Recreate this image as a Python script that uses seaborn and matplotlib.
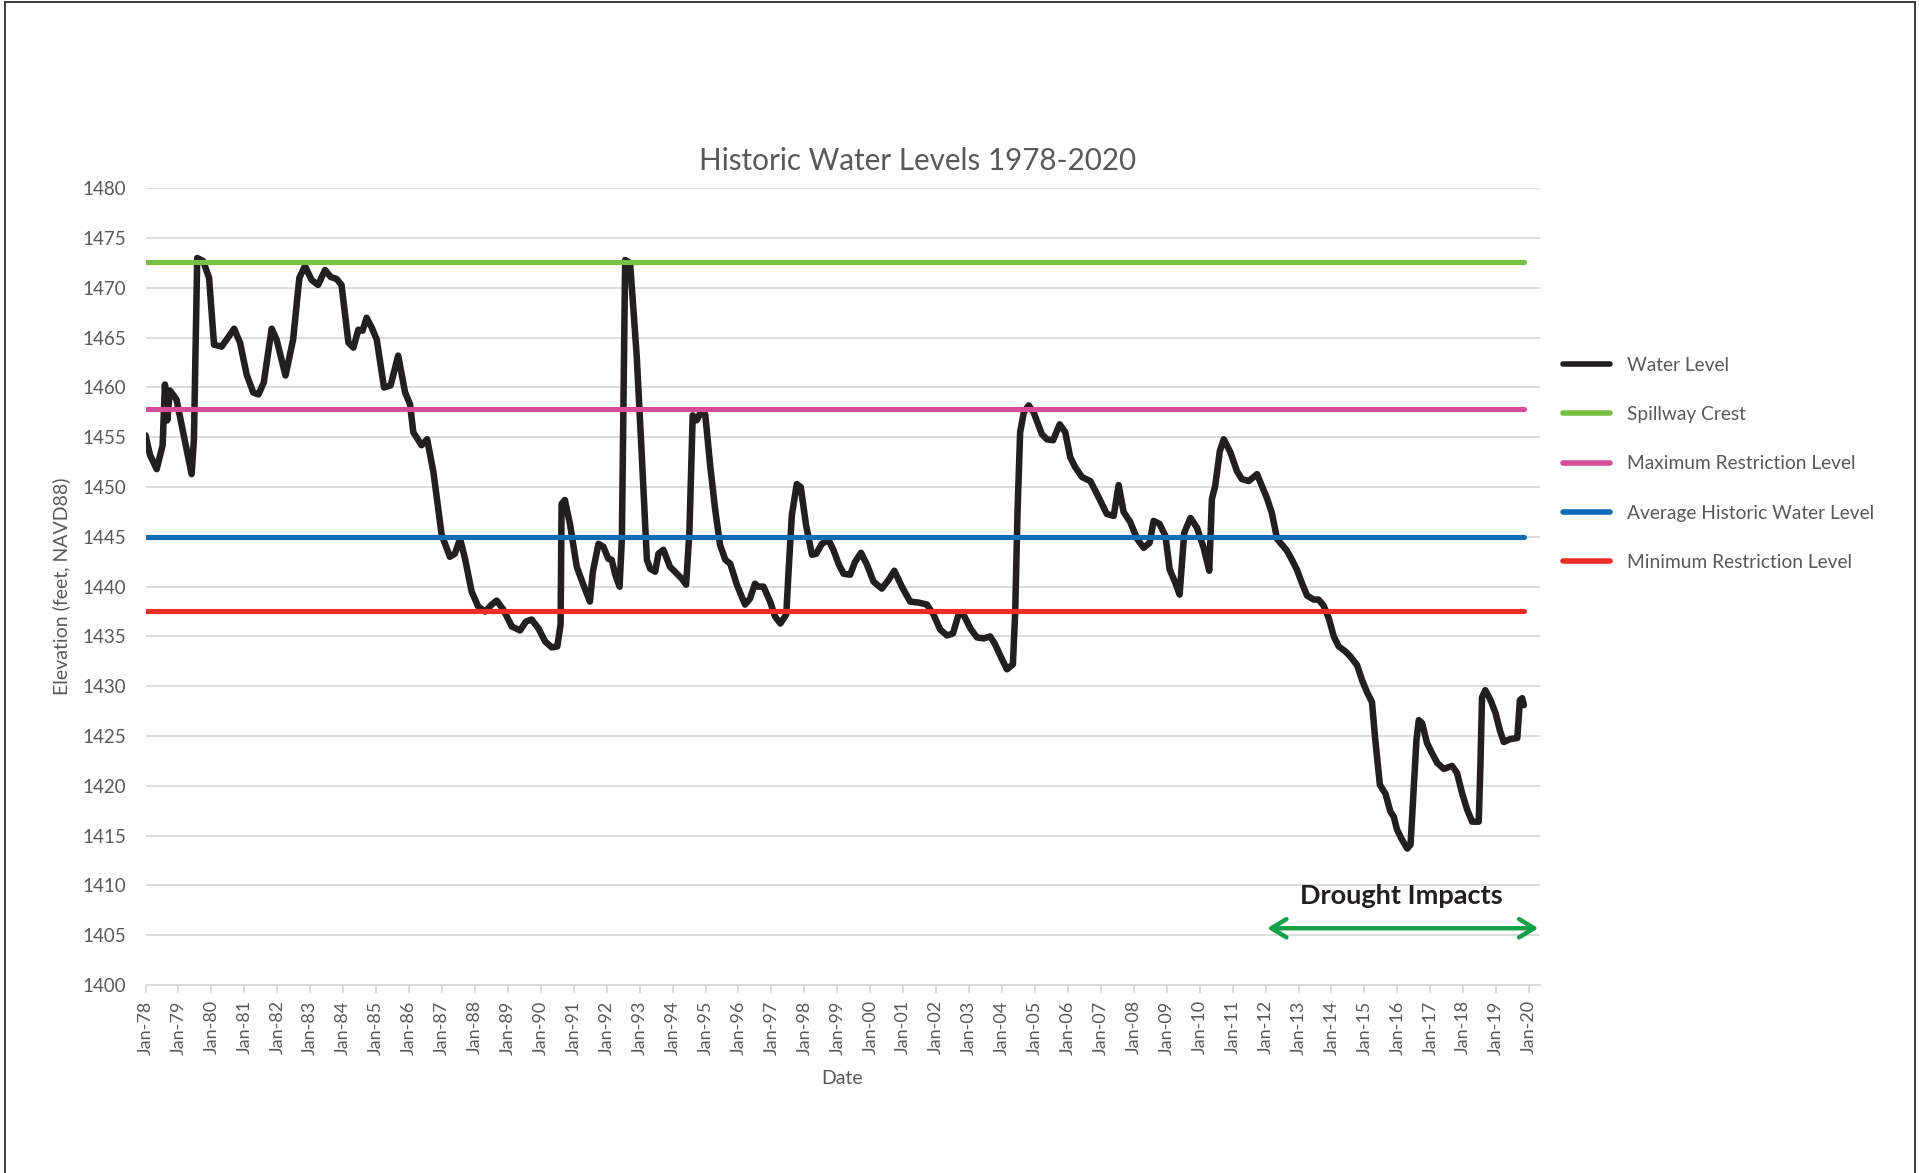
import matplotlib
matplotlib.use("Agg")
import matplotlib.pyplot as plt
from matplotlib.lines import Line2D
import pandas as pd
import seaborn as sns

# ---------------- data ----------------
dates = [
    1978.00, 1978.14, 1978.34, 1978.52, 1978.59, 1978.66, 1978.74, 1978.94, 1979.10, 1979.40,
    1979.47, 1979.57, 1979.75, 1979.93, 1980.08, 1980.31, 1980.46, 1980.69, 1980.87, 1981.07,
    1981.27, 1981.43, 1981.59, 1981.83, 1981.98, 1982.25, 1982.48, 1982.67, 1982.84, 1983.04,
    1983.24, 1983.45, 1983.62, 1983.80, 1983.95, 1984.16, 1984.31, 1984.46, 1984.59, 1984.71,
    1984.87, 1985.02, 1985.24, 1985.44, 1985.67, 1985.88, 1986.03, 1986.13, 1986.38, 1986.55,
    1986.74, 1986.99, 1987.24, 1987.39, 1987.55, 1987.70, 1987.90, 1988.10, 1988.31, 1988.51,
    1988.66, 1988.86, 1989.12, 1989.37, 1989.55, 1989.72, 1989.93, 1990.13, 1990.33, 1990.50,
    1990.60, 1990.63, 1990.73, 1990.89, 1991.09, 1991.29, 1991.49, 1991.58, 1991.75, 1991.90,
    1992.05, 1992.15, 1992.26, 1992.39, 1992.46, 1992.56, 1992.71, 1992.91, 1993.06, 1993.22,
    1993.32, 1993.47, 1993.57, 1993.72, 1993.92, 1994.13, 1994.28, 1994.41, 1994.51, 1994.61,
    1994.73, 1994.82, 1994.99, 1995.14, 1995.29, 1995.44, 1995.60, 1995.75, 1995.95, 1996.20,
    1996.35, 1996.50, 1996.60, 1996.76, 1996.96, 1997.11, 1997.27, 1997.45, 1997.52, 1997.62,
    1997.77, 1997.89, 1998.05, 1998.23, 1998.36, 1998.53, 1998.73, 1998.88, 1999.05, 1999.19,
    1999.39, 1999.54, 1999.72, 1999.90, 2000.10, 2000.35, 2000.56, 2000.73, 2000.96, 2001.21,
    2001.47, 2001.72, 2001.92, 2002.12, 2002.33, 2002.51, 2002.68, 2002.83, 2003.04, 2003.24,
    2003.44, 2003.64, 2003.79, 2004.00, 2004.15, 2004.33, 2004.40, 2004.47, 2004.55, 2004.66,
    2004.81, 2004.96, 2005.21, 2005.36, 2005.55, 2005.75, 2005.92, 2006.07, 2006.22, 2006.43,
    2006.68, 2006.93, 2007.18, 2007.39, 2007.54, 2007.69, 2007.89, 2008.10, 2008.30, 2008.48,
    2008.60, 2008.78, 2008.96, 2009.09, 2009.26, 2009.39, 2009.53, 2009.72, 2009.92, 2010.12,
    2010.29, 2010.37, 2010.47, 2010.61, 2010.73, 2010.93, 2011.13, 2011.28, 2011.49, 2011.74,
    2011.89, 2012.04, 2012.19, 2012.35, 2012.65, 2012.80, 2012.95, 2013.11, 2013.26, 2013.46,
    2013.61, 2013.76, 2013.92, 2014.07, 2014.22, 2014.42, 2014.57, 2014.78, 2014.93, 2015.08,
    2015.23, 2015.33, 2015.47, 2015.64, 2015.79, 2015.89, 2015.99, 2016.14, 2016.30, 2016.40,
    2016.50, 2016.58, 2016.65, 2016.75, 2016.90, 2017.05, 2017.21, 2017.41, 2017.66, 2017.81,
    2017.97, 2018.12, 2018.27, 2018.47, 2018.52, 2018.57, 2018.67, 2018.83, 2018.98, 2019.11,
    2019.23, 2019.43, 2019.64, 2019.72, 2019.79, 2019.84,
]
levels = [
    1455.2, 1453.2, 1451.8, 1454.2, 1460.3, 1456.7, 1459.7, 1458.8, 1456.2, 1451.3,
    1454.8, 1473.0, 1472.7, 1471.0, 1464.3, 1464.1, 1464.8, 1465.9, 1464.5, 1461.3,
    1459.5, 1459.3, 1460.5, 1465.9, 1464.8, 1461.2, 1464.8, 1471.0, 1472.2, 1470.8,
    1470.3, 1471.8, 1471.1, 1470.9, 1470.3, 1464.5, 1464.0, 1465.8, 1465.7, 1467.0,
    1466.0, 1464.8, 1460.0, 1460.2, 1463.2, 1459.5, 1458.3, 1455.5, 1454.2, 1454.8,
    1451.5, 1445.2, 1443.0, 1443.3, 1444.8, 1442.8, 1439.5, 1438.0, 1437.5, 1438.2,
    1438.6, 1437.7, 1436.0, 1435.6, 1436.5, 1436.7, 1435.8, 1434.5, 1433.9, 1434.0,
    1436.2, 1448.3, 1448.7, 1446.2, 1442.0, 1440.2, 1438.5, 1441.5, 1444.3, 1444.0,
    1442.8, 1442.7, 1441.2, 1440.0, 1444.8, 1472.8, 1472.5, 1463.2, 1453.5, 1442.7,
    1441.8, 1441.5, 1443.3, 1443.7, 1442.0, 1441.3, 1440.8, 1440.2, 1445.5, 1457.2,
    1456.7, 1457.3, 1457.3, 1452.2, 1447.8, 1444.2, 1442.7, 1442.3, 1440.2, 1438.2,
    1438.8, 1440.3, 1440.0, 1440.0, 1438.5, 1437.0, 1436.3, 1437.2, 1441.5, 1447.2,
    1450.3, 1450.0, 1446.2, 1443.2, 1443.3, 1444.3, 1444.7, 1443.7, 1442.2, 1441.3,
    1441.2, 1442.5, 1443.4, 1442.2, 1440.5, 1439.8, 1440.7, 1441.6, 1440.0, 1438.5,
    1438.4, 1438.2, 1437.2, 1435.7, 1435.1, 1435.3, 1437.2, 1437.2, 1435.8, 1434.9,
    1434.8, 1435.0, 1434.2, 1432.7, 1431.7, 1432.2, 1437.5, 1447.5, 1455.5, 1457.5,
    1458.2, 1457.5, 1455.3, 1454.8, 1454.7, 1456.3, 1455.5, 1453.0, 1452.0, 1451.0,
    1450.6, 1449.0, 1447.3, 1447.1, 1450.2, 1447.5, 1446.5, 1444.8, 1443.9, 1444.4,
    1446.6, 1446.3, 1445.1, 1441.7, 1440.4, 1439.2, 1445.4, 1446.9, 1445.9, 1443.9,
    1441.6, 1448.8, 1450.1, 1453.6, 1454.8, 1453.5, 1451.6, 1450.8, 1450.6, 1451.3,
    1450.1, 1448.9, 1447.4, 1444.8, 1443.6, 1442.7, 1441.7, 1440.3, 1439.1, 1438.7,
    1438.7, 1438.1, 1436.8, 1435.0, 1434.0, 1433.5, 1433.0, 1432.1, 1430.6, 1429.4,
    1428.4, 1424.6, 1420.1, 1419.2, 1417.4, 1416.9, 1415.6, 1414.6, 1413.7, 1414.1,
    1419.9, 1424.6, 1426.6, 1426.3, 1424.3, 1423.3, 1422.3, 1421.7, 1422.0, 1421.3,
    1419.2, 1417.6, 1416.4, 1416.4, 1421.9, 1428.9, 1429.6, 1428.6, 1427.3, 1425.6,
    1424.4, 1424.7, 1424.8, 1428.6, 1428.8, 1428.1,
]

ref_names = ["Spillway Crest", "Maximum Restriction Level",
             "Average Historic Water Level", "Minimum Restriction Level"]
ref_values = [1472.6, 1457.8, 1445.0, 1437.6]
ref_colors = ["#77bf45", "#d54c9b", "#0f6cb5", "#ee2e26"]
ref_span = [1978.0, 2019.84]

tick_years = list(range(1978, 2021))
tick_labels = ["Jan-%02d" % (y % 100) for y in tick_years]
y_ticks = list(range(1400, 1481, 5))

drought_span = [2012.05, 2020.28]
drought_level = 1405.7

# ---------------- style ----------------
sns.set_theme(style="white")
plt.rcParams["font.family"] = ["Lato", "DejaVu Sans"]
GREY = "#595959"
GRID = "#d9d9d9"

W, H = 1919, 1173
fig = plt.figure(figsize=(W / 100, H / 100), dpi=100)
left, right, top, bottom = 145.5, 1540, 188.3, 985
ax = fig.add_axes([left / W, 1 - bottom / H, (right - left) / W, (bottom - top) / H])

water_df = pd.DataFrame({"date": dates, "level": levels})
sns.lineplot(data=water_df, x="date", y="level", ax=ax, color="#231f20",
             linewidth=4.7, estimator=None, sort=False, label="Water Level", zorder=2)

ref_rows = []
for name, val in zip(ref_names, ref_values):
    for d in ref_span:
        ref_rows.append({"date": d, "level": val, "series": name})
ref_df = pd.DataFrame(ref_rows)
sns.lineplot(data=ref_df, x="date", y="level", hue="series", hue_order=ref_names,
             palette=dict(zip(ref_names, ref_colors)), ax=ax, linewidth=3.7,
             estimator=None, zorder=3, solid_capstyle="round")

ax.set_xlim(1978, 2020.33)
ax.set_ylim(1400, 1480)
ax.set_xticks(tick_years)
ax.set_xticklabels(tick_labels, rotation=90)
ax.set_yticks(y_ticks)
ax.set_xlabel("")
ax.set_ylabel("")

ax.yaxis.grid(True, color=GRID, linewidth=1.3)
ax.xaxis.grid(False)
ax.set_axisbelow(True)
for s in ["top", "right", "left"]:
    ax.spines[s].set_visible(False)
ax.spines["bottom"].set_color(GRID)
ax.spines["bottom"].set_linewidth(1.3)
ax.tick_params(axis="x", length=6, width=1.3, color=GRID, labelsize=13,
               labelcolor=GREY, pad=5, bottom=True)
ax.tick_params(axis="y", length=0, labelsize=13.5, labelcolor=GREY, pad=14)

# legend
handles, labels = ax.get_legend_handles_labels()
leg = ax.legend(handles, labels, loc="upper left",
                bbox_to_anchor=(1563 / W, 1 - 357 / H), bbox_transform=fig.transFigure,
                frameon=False, fontsize=13.8, handlelength=2.45, handletextpad=0.9,
                labelspacing=1.68, borderpad=0, borderaxespad=0)
for t in leg.get_texts():
    t.set_color(GREY)
for h in leg.get_lines():
    h.set_linewidth(4.0)
    h.set_solid_capstyle("round")

# drought annotation
ax.annotate("", xy=(drought_span[0], drought_level), xytext=(drought_span[1], drought_level),
            arrowprops=dict(arrowstyle="<->,head_length=0.9,head_width=0.55",
                            color="#17a04a", lw=3.2, shrinkA=0, shrinkB=0),
            annotation_clip=False)
ax.text(sum(drought_span) / 2 - 0.05, 1408.9, "Drought Impacts", ha="center", va="center",
        fontsize=19.5, fontweight="bold", color="#231f20")

# titles and labels
fig.text(918 / W, 1 - 161.5 / H, "Historic Water Levels 1978-2020", ha="center",
         va="center", fontsize=21.3, color=GREY)
fig.text(61 / W, 1 - 586 / H, "Elevation (feet, NAVD88)", rotation=90, ha="center",
         va="center", fontsize=14, color=GREY)
fig.text(842 / W, 1 - 1078 / H, "Date", ha="center", va="center", fontsize=14, color=GREY)

# outer frame
for xs, ys in [([5 / W, 5 / W], [0, 1 - 2 / H]),
               ([5 / W, 1915 / W], [1 - 2 / H, 1 - 2 / H]),
               ([1915 / W, 1915 / W], [0, 1 - 2 / H])]:
    fig.add_artist(Line2D(xs, ys, transform=fig.transFigure, color="#3a3a3a", lw=1.4))

fig.savefig("out.png", dpi=100)
